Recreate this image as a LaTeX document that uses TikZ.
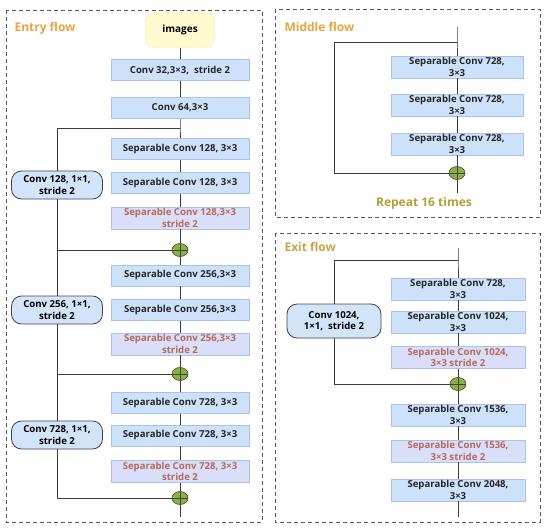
\documentclass[tikz,border=0pt]{standalone}
\usepackage{fontspec}
\setmainfont{Open Sans}
\usetikzlibrary{calc, arrows, shapes.geometric}
\usetikzlibrary{backgrounds}

\definecolor{boxblue}{HTML}{CDE1FA}
\definecolor{boxedge}{HTML}{A9C2EA}
\definecolor{stridefill}{HTML}{D9DFF9}
\definecolor{stridetext}{HTML}{B9685A}
\definecolor{sidefill}{HTML}{D3E4F8}
\definecolor{sideedge}{HTML}{3A4656}
\definecolor{imgfill}{HTML}{FFFBCF}
\definecolor{imgedge}{HTML}{F2ECB4}
\definecolor{addfill}{HTML}{8EAE4C}
\definecolor{addedge}{HTML}{3F4A22}
\definecolor{titleorange}{HTML}{E9A441}
\definecolor{titlegold}{HTML}{C9A545}
\definecolor{repeatgold}{HTML}{B3A035}
\definecolor{linegray}{HTML}{3C3C3C}
\definecolor{framegray}{HTML}{5A5A5A}

\tikzset{
    layer/.style={draw=boxedge, fill=boxblue, rectangle, align=center, inner sep=1.5pt,
        minimum height=21, font=\fontsize{9.6}{11.5}\selectfont\bfseries, text=black!85},
    stridelayer/.style={layer, fill=stridefill, text=stridetext},
    shortcut/.style={draw=sideedge, fill=sidefill, rounded corners=10, align=center,
        line width=0.8pt, minimum width=91, minimum height=28, inner sep=1pt,
        font=\fontsize{9.6}{11.5}\selectfont\bfseries},
    addop/.style={ellipse, draw=addedge, fill=addfill, line width=0.6pt,
        minimum width=16, minimum height=13, inner sep=0pt,
        path picture={\draw[addedge, line width=0.6pt]
            (path picture bounding box.north) -- (path picture bounding box.south)
            (path picture bounding box.west) -- (path picture bounding box.east);}},
    link/.style={draw=linegray, line width=0.8pt},
    frame/.style={draw=framegray, dashed, dash pattern=on 4pt off 3pt, line width=0.8pt},
    flowtitle/.style={font=\fontsize{12}{14}\selectfont\bfseries, anchor=west}
}

\begin{document}
\begin{tikzpicture}[x=1pt, y=-1pt]

    \useasboundingbox (0,0) rectangle (550,530);

    % Frames and titles
    \draw[frame] (6,10) rectangle (262,522);
    \draw[frame] (275,9) rectangle (540,217);
    \draw[frame] (275,233) rectangle (540,522);
    \node[flowtitle, text=titleorange] (entrytitle) at (11,28) {Entry flow};
    \node[flowtitle, text=titleorange] (middletitle) at (281,27) {Middle flow};
    \node[flowtitle, text=titlegold] (exittitle) at (281,247) {Exit flow};

    % Entry flow
    \node[draw=imgedge, fill=imgfill, rounded corners=10, minimum width=70, minimum height=35,
        font=\fontsize{10}{12}\selectfont\bfseries] (images) at (180,30) {images};
    \node[layer, minimum width=138] (c32) at (180,70) {Conv 32,3×3,\ \ stride 2};
    \node[layer, minimum width=138] (c64) at (180,108) {Conv 64,3×3};
    \coordinate (b1) at (180,128);
    \node[layer, minimum width=138] (s128a) at (180,149) {Separable Conv 128, 3×3};
    \node[layer, minimum width=138] (s128b) at (180,183) {Separable Conv 128, 3×3};
    \node[stridelayer, minimum width=138] (s128c) at (180,218) {Separable Conv 128,3×3\\stride 2};
    \node[addop] (add1) at (180,250) {};
    \node[layer, minimum width=138] (s256a) at (180,275.5) {Separable Conv 256,3×3};
    \node[layer, minimum width=138] (s256b) at (180,310) {Separable Conv 256,3×3};
    \node[stridelayer, minimum width=138] (s256c) at (180,344) {Separable Conv 256,3×3\\stride 2};
    \node[addop] (add2) at (180,374) {};
    \node[layer, minimum width=138] (s728a) at (180,403) {Separable Conv 728, 3×3};
    \node[layer, minimum width=138] (s728b) at (180,435.5) {Separable Conv 728, 3×3};
    \node[stridelayer, minimum width=138] (s728c) at (180,471.5) {Separable Conv 728, 3×3\\stride 2};
    \node[addop] (add3) at (180,498) {};
    \coordinate (entryend) at (180,517);

    \node[shortcut] (r128) at (57,185) {Conv 128, 1×1,\\stride 2};
    \node[shortcut] (r256) at (57,310) {Conv 256, 1×1,\\stride 2};
    \node[shortcut] (r728) at (57,435) {Conv 728, 1×1,\\stride 2};
    \coordinate (j1) at (r128 |- add1);
    \coordinate (j2) at (r256 |- add2);

    \draw[link] (images) -- (c32) -- (c64) -- (b1) -- (s128a) -- (s128b) -- (s128c) -- (add1)
        -- (s256a) -- (s256b) -- (s256c) -- (add2) -- (s728a) -- (s728b) -- (s728c) -- (add3) -- (entryend);
    \draw[link] (b1) -| (r128);
    \draw[link] (r128) |- (add1);
    \draw[link] (j1) -- (r256);
    \draw[link] (r256) |- (add2);
    \draw[link] (j2) -- (r728);
    \draw[link] (r728) |- (add3);

    % Middle flow
    \coordinate (mtop) at (457,27);
    \coordinate (mb) at (457,42);
    \node[layer, minimum width=132] (m1) at (457,67) {Separable Conv 728,\\3×3};
    \node[layer, minimum width=132] (m2) at (457,105) {Separable Conv 728,\\3×3};
    \node[layer, minimum width=132] (m3) at (457,144) {Separable Conv 728,\\3×3};
    \node[addop] (madd) at (457,173) {};
    \coordinate (mend) at (457,193);
    \coordinate (mleft) at (334,173);
    \node[font=\fontsize{12}{14}\selectfont\bfseries, text=repeatgold] (repeat) at (424,203) {Repeat 16 times};

    \draw[link] (mtop) -- (mb) -- (m1) -- (m2) -- (m3) -- (madd) -- (mend);
    \draw[link] (mb) -| (mleft) -- (madd);

    % Exit flow
    \coordinate (etop) at (458,248);
    \coordinate (eb) at (458,260);
    \node[layer, minimum width=134] (e1) at (458,289) {Separable Conv 728,\\3×3};
    \node[layer, minimum width=134] (e2) at (458,322) {Separable Conv 1024,\\3×3};
    \node[stridelayer, minimum width=134] (e3) at (458,357.5) {Separable Conv 1024,\\3×3 stride 2};
    \node[addop] (eadd) at (458,384) {};
    \node[layer, minimum width=134] (e4) at (458,415) {Separable Conv 1536,\\3×3};
    \node[stridelayer, minimum width=134] (e5) at (458,451) {Separable Conv 1536,\\3×3 stride 2};
    \node[layer, minimum width=134] (e6) at (458,490) {Separable Conv 2048,\\3×3};
    \coordinate (exitend) at (458,517);
    \node[shortcut, minimum width=94, minimum height=34] (r1024) at (334,321) {Conv 1024,\\1×1,\ \ stride 2};

    \draw[link] (etop) -- (eb) -- (e1) -- (e2) -- (e3) -- (eadd) -- (e4) -- (e5) -- (e6) -- (exitend);
    \draw[link] (eb) -| (r1024);
    \draw[link] (r1024) |- (eadd);

\end{tikzpicture}
\end{document}
